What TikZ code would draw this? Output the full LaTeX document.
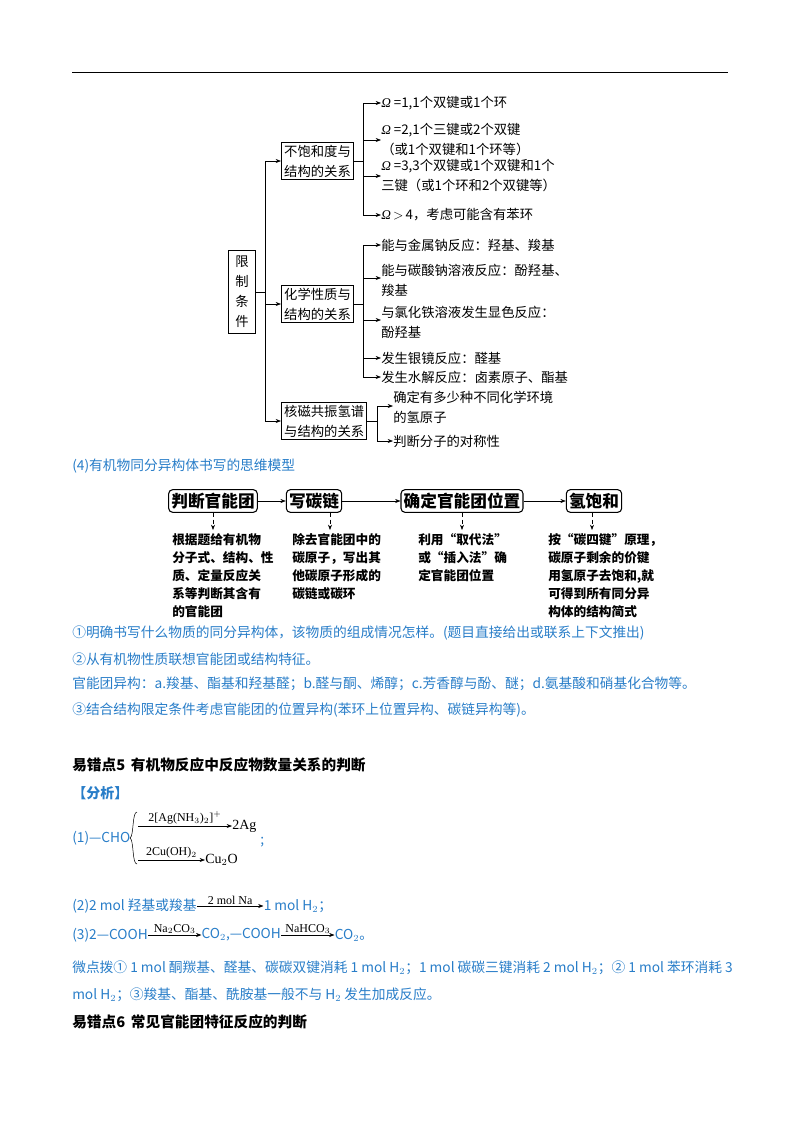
\documentclass[tikz,border=0pt]{standalone}
\usepackage{fontspec}
\setmainfont{Liberation Serif}
\newfontfamily\cjk{Noto Sans CJK SC}
\newfontfamily\lser{Liberation Serif}
\newcommand{\Om}{{\lser\itshape Ω}}
\usetikzlibrary{arrows.meta}
\definecolor{tblue}{RGB}{40,125,200}
\begin{document}
\begin{tikzpicture}[x=0.75pt,y=-0.75pt,
 tx/.style={anchor=west,inner sep=0pt,font=\cjk\fontsize{10}{15}\selectfont,align=left},
 bt/.style={tx,text=tblue,font=\cjk\fontsize{10.3}{15}\selectfont},
 bx/.style={draw,thick,inner sep=2pt,font=\cjk\fontsize{10}{15}\selectfont,align=left},
 fb/.style={draw,thick,rounded corners=3pt,minimum height=17pt,inner sep=2pt,font=\cjk\bfseries\fontsize{12.5}{14}\selectfont},
 ft/.style={anchor=north west,inner sep=0pt,font=\cjk\bfseries\fontsize{9.5}{13.5}\selectfont,align=left},
 ar/.style={-{Stealth[length=4pt,width=3pt]}},
 dar/.style={ar,densely dashed},
 lb/.style={above,inner sep=1pt,text=black,font=\lser\fontsize{9}{11}\selectfont}]
\useasboundingbox (0,0) rectangle (800,1132);
\draw (72,72) -- (728,72);
% tree
\node[bx,minimum width=20pt,minimum height=62pt] (root) at (242,292) {限\\制\\条\\件};
\node[bx,anchor=west] (b1) at (281,161) {不饱和度与\\结构的关系};
\node[bx,anchor=west] (b2) at (281,304) {化学性质与\\结构的关系};
\node[bx,anchor=west] (b3) at (281,421) {核磁共振氢谱\\与结构的关系};
\coordinate (t0) at (265,292);
\draw (root.east) -- (t0);
\draw (265,161) -- (265,421);
\draw[ar] (265,161) -- (b1.west);
\draw[ar] (265,304) -- (b2.west);
\draw[ar] (265,421) -- (b3.west);
% b1 items
\node[tx] (a1) at (381,103) {\Om\ =1,1个双键或1个环};
\node[tx] (a2) at (381,140) {\Om\ =2,1个三键或2个双键\\（或1个双键和1个环等）};
\node[tx] (a3) at (381,176) {\Om\ =3,3个双键或1个双键和1个\\三键（或1个环和2个双键等）};
\node[tx] (a4) at (381,215) {\Om\,$>$\,4，考虑可能含有苯环};
\draw (b1.east) -- (363,161);
\draw (363,103) -- (363,215);
\foreach \n/\y in {a1/103,a2/140,a3/176,a4/215} \draw[ar] (363,\y) -- (\n.west |- 0,\y);
% b2 items
\node[tx] (c1) at (381,245) {能与金属钠反应：羟基、羧基};
\node[tx] (c2) at (381,280) {能与碳酸钠溶液反应：酚羟基、\\羧基};
\node[tx] (c3) at (381,322) {与氯化铁溶液发生显色反应：\\酚羟基};
\node[tx] (c4) at (381,358) {发生银镜反应：醛基};
\node[tx] (c5) at (381,377) {发生水解反应：卤素原子、酯基};
\draw (b2.east) -- (363,304);
\draw (363,245) -- (363,377);
\foreach \n/\y in {c1/245,c2/278,c3/320,c4/358,c5/377} \draw[ar] (363,\y) -- (\n.west |- 0,\y);
% b3 items
\node[tx] (d1) at (393,407) {确定有多少种不同化学环境\\的氢原子};
\node[tx] (d2) at (393,441) {判断分子的对称性};
\draw (b3.east) -- (377,421);
\draw (377,406) -- (377,441);
\draw[ar] (377,406) -- (d1.west |- 0,406);
\draw[ar] (377,441) -- (d2.west);
% section 4
\node[bt] (s4) at (72,466) {(4)有机物同分异构体书写的思维模型};
\node[fb] (f1) at (213,501) {判断官能团};
\node[fb] (f2) at (314,501) {写碳链};
\node[fb] (f3) at (462,501) {确定官能团位置};
\node[fb] (f4) at (594,501) {氢饱和};
\draw[ar] (f1) -- (f2); \draw[ar] (f2) -- (f3); \draw[ar] (f3) -- (f4);
\coordinate (e1) at (213,530); \coordinate (e2) at (330,530);
\coordinate (e3) at (462,530); \coordinate (e4) at (592,530);
\foreach \f/\e in {f1/e1,f2/e2,f3/e3,f4/e4} \draw[dar] (\f.south -| \e) -- (\e);
\node[ft] (g1) at (172,533) {根据题给有机物\\分子式、结构、性\\质、定量反应关\\系等判断其含有\\的官能团};
\node[ft] (g2) at (292,533) {除去官能团中的\\碳原子，写出其\\他碳原子形成的\\碳链或碳环};
\node[ft] (g3) at (418,533) {利用“取代法”\\或“插入法”确\\定官能团位置};
\node[ft] (g4) at (548,533) {按“碳四键”原理，\\碳原子剩余的价键\\用氢原子去饱和,就\\可得到所有同分异\\构体的结构简式};
\node[bt] (p1) at (72,633) {①明确书写什么物质的同分异构体，该物质的组成情况怎样。(题目直接给出或联系上下文推出)};
\node[bt] (p2) at (72,659) {②从有机物性质联想官能团或结构特征。};
\node[bt] (p3) at (72,684) {官能团异构：a.羧基、酯基和羟基醛；b.醛与酮、烯醇；c.芳香醇与酚、醚；d.氨基酸和硝基化合物等。};
\node[bt] (p4) at (72,710) {③结合结构限定条件考虑官能团的位置异构(苯环上位置异构、碳链异构等)。};
% section 5
\node[tx,font=\cjk\bfseries\fontsize{11}{13}\selectfont] (h5) at (72,765) {易错点5\, 有机物反应中反应物数量关系的判断};
\node[bt,font=\cjk\bfseries\fontsize{10.5}{13}\selectfont] (fx) at (72,793) {【分析】};
\node[bt] (r1) at (72,838) {(1)—CHO};
\draw (137,812) .. controls (132,812) and (134,836) .. (130,838) .. controls (134,840) and (132,864) .. (137,864);
\node[tx,font=\lser\fontsize{10.5}{12}\selectfont] (ag) at (232,826) {2Ag};
\node[tx,font=\lser\fontsize{10.5}{12}\selectfont] (cu) at (205,860) {Cu$_2$O};
\coordinate (u1) at (138,826); \coordinate (l1) at (138,860);
\draw[ar] (u1) -- node[lb]{2[Ag(NH$_3$)$_2$]$^+$} (ag.west);
\draw[ar] (l1) -- node[lb]{2Cu(OH)$_2$} (cu.west);
\node[bt] (sc) at (260,842) {;};
\node[bt] (r2) at (72,906) {(2)2 mol 羟基或羧基};
\node[bt,anchor=west] (r2b) at ([xshift=50pt]r2.east) {1 mol H$_2$；};
\draw[ar] (r2.east) -- node[lb]{2 mol Na} (r2b.west);
\node[bt] (r3a) at (72,935) {(3)2—COOH};
\node[bt,anchor=west] (r3b) at ([xshift=40pt]r3a.east) {CO$_2$,—COOH};
\node[bt,anchor=west] (r3c) at ([xshift=40pt]r3b.east) {CO$_2$。};
\draw[ar] (r3a.east) -- node[lb]{Na$_2$CO$_3$} (r3b.west);
\draw[ar] (r3b.east) -- node[lb]{NaHCO$_3$} (r3c.west);
\node[bt] (w1) at (72,968) {微点拨① 1 mol 酮羰基、醛基、碳碳双键消耗 1 mol H$_2$；1 mol 碳碳三键消耗 2 mol H$_2$；② 1 mol 苯环消耗 3};
\node[bt] (w2) at (72,995) {mol H$_2$；③羧基、酯基、酰胺基一般不与 H$_2$ 发生加成反应。};
\node[tx,font=\cjk\bfseries\fontsize{11}{13}\selectfont] (h6) at (72,1022) {易错点6\, 常见官能团特征反应的判断};
\end{tikzpicture}
\end{document}
